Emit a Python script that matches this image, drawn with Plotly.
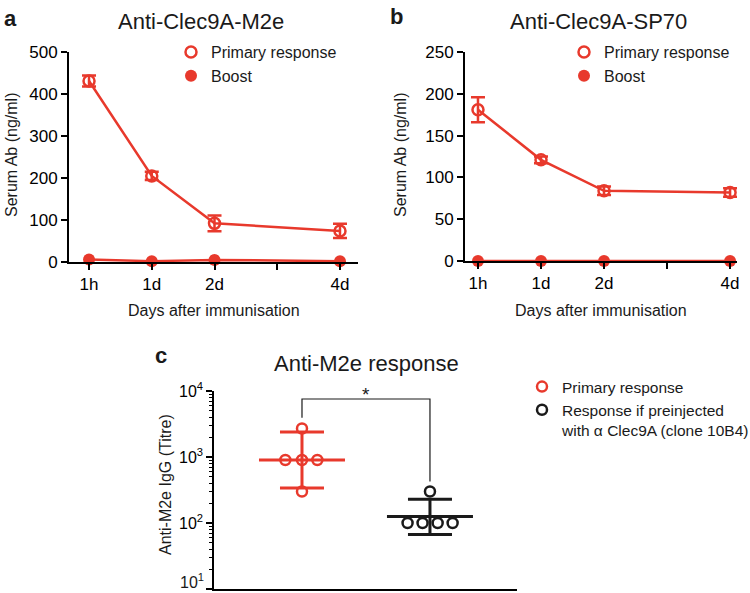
import math
import plotly.graph_objects as go

# ---------------- data ----------------
days = [0, 1, 2, 4]
tick_days = [0, 1, 2, 3, 4]
tick_day_labels = ["1h", "1d", "2d", "", "4d"]

a_primary = [431, 205, 92, 74]
a_primary_err = [13, 10, 19, 17]
a_boost = [6, 2, 5, 2]

b_primary = [181, 121, 84, 82]
b_primary_err = [15, 4, 5, 5]
b_boost = [0, 0, 0, 0]

c_groups = [1, 2]
c_primary = [2700, 900, 900, 900, 300]
c_primary_jitter = [0, -0.13, 0, 0.12, 0]
c_pre = [300, 100, 100, 100, 100]
c_pre_jitter = [0, -0.175, -0.058, 0.06, 0.177]
c_center = [900, 125]
c_upper = [2400, 230]
c_lower = [340, 67]
c_bracket = [3920, 7570, 7570, 424]

c_ticks = [10, 100, 1000, 10000]
c_tick_labels = ["10<sup>1</sup>", "10<sup>2</sup>", "10<sup>3</sup>", "10<sup>4</sup>"]

RED = "#E8392C"
BLK = "#1a1a1a"
FONT = "Liberation Sans, Arial, sans-serif"
W, H = 750, 593


def px(x):
    return x / W


def py(y):
    return 1 - y / H


fig = go.Figure()

# ---------- panel a ----------
fig.add_trace(go.Scatter(x=days, y=a_primary, mode="lines", line=dict(color=RED, width=2.5),
                         xaxis="x", yaxis="y", showlegend=False, cliponaxis=False, hoverinfo="skip"))
fig.add_trace(go.Scatter(x=days, y=a_boost, mode="lines", line=dict(color=RED, width=2.5),
                         xaxis="x", yaxis="y", showlegend=False, cliponaxis=False, hoverinfo="skip"))
fig.add_trace(go.Scatter(x=days, y=a_primary, mode="markers", name="Primary response",
                         marker=dict(symbol="circle-open", size=11, color=RED, line=dict(width=2.5)),
                         error_y=dict(type="data", array=a_primary_err, color=RED, thickness=2.5, width=7),
                         xaxis="x", yaxis="y", legend="legend", cliponaxis=False))
fig.add_trace(go.Scatter(x=days, y=a_boost, mode="markers", name="Boost",
                         marker=dict(symbol="circle", size=12, color=RED),
                         xaxis="x", yaxis="y", legend="legend", cliponaxis=False))

# ---------- panel b ----------
fig.add_trace(go.Scatter(x=days, y=b_primary, mode="lines", line=dict(color=RED, width=2.5),
                         xaxis="x2", yaxis="y2", showlegend=False, cliponaxis=False, hoverinfo="skip"))
fig.add_trace(go.Scatter(x=days, y=b_boost, mode="lines", line=dict(color=RED, width=2.5),
                         xaxis="x2", yaxis="y2", showlegend=False, cliponaxis=False, hoverinfo="skip"))
fig.add_trace(go.Scatter(x=days, y=b_primary, mode="markers", name="Primary response",
                         marker=dict(symbol="circle-open", size=11, color=RED, line=dict(width=2.5)),
                         error_y=dict(type="data", array=b_primary_err, color=RED, thickness=2.5, width=7),
                         xaxis="x2", yaxis="y2", legend="legend2", cliponaxis=False))
fig.add_trace(go.Scatter(x=days, y=b_boost, mode="markers", name="Boost",
                         marker=dict(symbol="circle", size=12, color=RED),
                         xaxis="x2", yaxis="y2", legend="legend2", cliponaxis=False))

# ---------- panel c ----------
c_colors = [RED, BLK]
c_points = [c_primary, c_pre]
c_jit = [c_primary_jitter, c_pre_jitter]
c_names = ["Primary response", "Response if preinjected<br>with \u03b1 Clec9A (clone 10B4)"]
half_line = 0.336
for g, col, m, up, lo in zip(c_groups, c_colors, c_center, c_upper, c_lower):
    fig.add_trace(go.Scatter(x=[g - half_line, g + half_line], y=[m, m], mode="lines",
                             line=dict(color=col, width=3), xaxis="x3", yaxis="y3",
                             showlegend=False, hoverinfo="skip", cliponaxis=False))
    fig.add_trace(go.Scatter(x=[g], y=[m], mode="markers", marker=dict(size=1, color=col, opacity=0),
                             error_y=dict(type="data", symmetric=False, array=[up - m], arrayminus=[m - lo],
                                          color=col, thickness=3, width=22),
                             xaxis="x3", yaxis="y3", showlegend=False, hoverinfo="skip", cliponaxis=False))
for g, col, pts, jit, nm in zip(c_groups, c_colors, c_points, c_jit, c_names):
    fig.add_trace(go.Scatter(x=[g + j for j in jit], y=pts, mode="markers", name=nm,
                             marker=dict(symbol="circle-open", size=10, color=col, line=dict(width=2.5)),
                             xaxis="x3", yaxis="y3", legend="legend3", cliponaxis=False))

fig.add_trace(go.Scatter(x=[c_groups[0], c_groups[0], c_groups[1], c_groups[1]], y=c_bracket,
                         mode="lines", line=dict(color=BLK, width=1.2), xaxis="x3", yaxis="y3",
                         showlegend=False, hoverinfo="skip", cliponaxis=False))

# ---------- axes ----------
common_x = dict(showline=True, linecolor="black", linewidth=2, ticks="outside", ticklen=6, tickwidth=2,
                tickcolor="black", showgrid=False, zeroline=False, tickfont=dict(size=17, color="black"),
                tickvals=tick_days, ticktext=tick_day_labels, fixedrange=True, automargin=False)
common_y = dict(showline=True, linecolor="black", linewidth=2, ticks="outside", ticklen=6, tickwidth=2,
                tickcolor="black", showgrid=False, zeroline=False, tickfont=dict(size=17, color="black"),
                fixedrange=True, automargin=False)

# the lowest decade label sits at the page edge, so it is raised above its tick (as in the original)
c_axis_labels = [""] + c_tick_labels[1:]

fig.update_layout(
    xaxis=dict(domain=[px(69), px(358)], range=[-0.319, 4.287], anchor="y", **common_x),
    yaxis=dict(domain=[py(262), py(52)], range=[0, 500], anchor="x", tickvals=[0, 100, 200, 300, 400, 500],
               **common_y),
    xaxis2=dict(domain=[px(465), px(737)], range=[-0.206, 4.11], anchor="y2", **common_x),
    yaxis2=dict(domain=[py(261), py(52)], range=[0, 250], anchor="x2", tickvals=[0, 50, 100, 150, 200, 250],
                **common_y),
    xaxis3=dict(domain=[px(214), px(517)], range=[0.3125, 2.68], anchor="y3", showline=True,
                linecolor="black", linewidth=1.5, showticklabels=False, ticks="", showgrid=False,
                zeroline=False, fixedrange=True, automargin=False),
    yaxis3=dict(domain=[py(589), py(391)], type="log", range=[1, 4], anchor="x3", showline=True,
                linecolor="black", linewidth=1.5, ticks="outside", ticklen=6, tickwidth=1.5, tickcolor="black",
                tickvals=c_ticks, ticktext=c_axis_labels, tickfont=dict(size=16, color="black"),
                showgrid=False, zeroline=False, fixedrange=True, automargin=False,
                minor=dict(ticks="outside", ticklen=3, tickwidth=1, tickcolor="black",
                           tickvals=[k * 10 ** e for e in range(1, 4) for k in range(2, 10)], showgrid=False)),
)

leg_common = dict(bgcolor="rgba(0,0,0,0)", borderwidth=0,
                  xanchor="left", yanchor="top", tracegroupgap=0, itemclick=False, itemdoubleclick=False)
fig.update_layout(
    legend=dict(x=px(171), y=py(35), font=dict(size=16, color=BLK, family=FONT), **leg_common),
    legend2=dict(x=px(564), y=py(35), font=dict(size=16, color=BLK, family=FONT), **leg_common),
    legend3=dict(x=px(522), y=py(370), valign="top", font=dict(size=15.5, color=BLK, family=FONT),
                 **leg_common),
)

ann = []
ann.append(dict(text="<b>a</b>", x=px(2), y=py(4), xanchor="left", yanchor="top", font=dict(size=22)))
ann.append(dict(text="<b>b</b>", x=px(388), y=py(2), xanchor="left", yanchor="top", font=dict(size=22)))
ann.append(dict(text="<b>c</b>", x=px(153), y=py(341), xanchor="left", yanchor="top", font=dict(size=22)))
ann.append(dict(text="Anti-Clec9A-M2e", x=px(201), y=py(21), xanchor="center", yanchor="middle",
                font=dict(size=22)))
ann.append(dict(text="Anti-Clec9A-SP70", x=px(598), y=py(21), xanchor="center", yanchor="middle",
                font=dict(size=22)))
ann.append(dict(text="Anti-M2e response", x=px(366), y=py(363), xanchor="center", yanchor="middle",
                font=dict(size=22)))
ann.append(dict(text="Days after immunisation", x=px(214), y=py(310), xanchor="center", yanchor="middle",
                font=dict(size=16)))
ann.append(dict(text="Days after immunisation", x=px(601), y=py(310), xanchor="center", yanchor="middle",
                font=dict(size=16)))
ann.append(dict(text="Serum Ab (ng/ml)", x=px(11), y=py(155), xanchor="center", yanchor="middle",
                textangle=-90, font=dict(size=16)))
ann.append(dict(text="Serum Ab (ng/ml)", x=px(400), y=py(155), xanchor="center", yanchor="middle",
                textangle=-90, font=dict(size=16)))
ann.append(dict(text="Anti-M2e IgG (Titre)", x=px(165), y=py(485), xanchor="center", yanchor="middle",
                textangle=-90, font=dict(size=16)))
ann.append(dict(text=c_tick_labels[0], x=px(206), y=py(593), xanchor="right", yanchor="bottom",
                font=dict(size=16)))
for a in ann:
    a.update(xref="paper", yref="paper", showarrow=False)
    a["font"].update(color=BLK, family=FONT)

# significance star, positioned in panel c data coordinates
ann.append(dict(text="*", xref="x3", yref="y3", x=(c_groups[0] + c_groups[1]) / 2,
                y=math.log10(c_bracket[1]), xanchor="center", yanchor="middle", yshift=4,
                showarrow=False, font=dict(size=19, color=BLK, family=FONT)))

fig.update_layout(
    annotations=ann,
    width=W, height=H,
    margin=dict(l=0, r=0, t=0, b=0, pad=0, autoexpand=False),
    paper_bgcolor="white", plot_bgcolor="white",
    font=dict(family=FONT, color=BLK),
    showlegend=True,
)

fig.write_html("out.html", config={"displayModeBar": False},
               post_script="document.body.style.margin='0';document.body.style.overflow='hidden';")
